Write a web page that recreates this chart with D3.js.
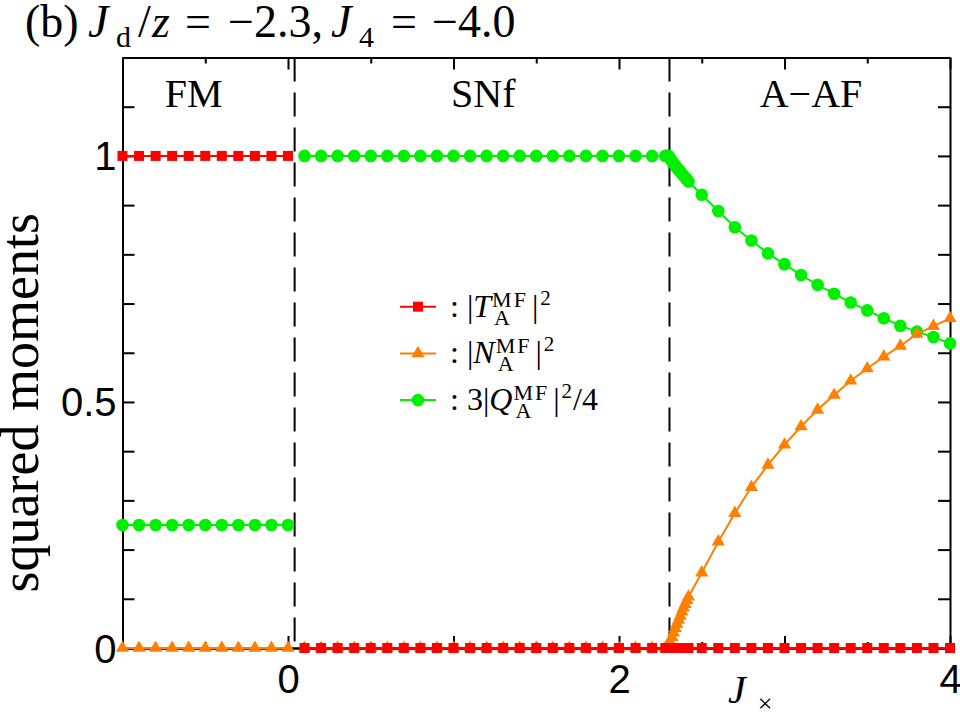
<!DOCTYPE html>
<html>
<head>
<meta charset="utf-8">
<script src="https://cdn.jsdelivr.net/npm/d3@7"></script>
<style>
  body { margin: 0; background: #fff; }
  svg { display: block; }
  .axis text { font-family: 'Liberation Sans', Arial, sans-serif; font-size: 40px; fill: #000; }
  .axis path, .axis line { stroke: #000; stroke-width: 2px; }
  .serif { font-family: 'Liberation Serif', 'Times New Roman', serif; fill: #000; }
</style>
</head>
<body>
<div id="chart"></div>
<script>
// FM phase, J_x from -1 to 0
const jxFM = [-1.0, -0.9, -0.8, -0.7, -0.6, -0.5, -0.4, -0.3, -0.2, -0.1, 0.0];
const tFM = [1, 1, 1, 1, 1, 1, 1, 1, 1, 1, 1];
const nFM = [0, 0, 0, 0, 0, 0, 0, 0, 0, 0, 0];
const qFM = [0.25, 0.25, 0.25, 0.25, 0.25, 0.25, 0.25, 0.25, 0.25, 0.25, 0.25];

// SNf and A-AF phases
const jx = [0.1, 0.2, 0.3, 0.4, 0.5, 0.6, 0.7, 0.8, 0.9, 1.0, 1.1, 1.2, 1.3, 1.4, 1.5, 1.6, 1.7, 1.8, 1.9, 2.0, 2.1, 2.2,
  2.28, 2.29, 2.30,
  2.31, 2.32, 2.33, 2.34, 2.35, 2.36, 2.37, 2.38, 2.39, 2.40, 2.41, 2.42,
  2.5, 2.6, 2.7, 2.8, 2.9, 3.0, 3.1, 3.2, 3.3, 3.4, 3.5, 3.6, 3.7, 3.8, 3.9, 4.0];
const tVals = [0, 0, 0, 0, 0, 0, 0, 0, 0, 0, 0, 0, 0, 0, 0, 0, 0, 0, 0, 0, 0, 0,
  0, 0, 0,
  0, 0, 0, 0, 0, 0, 0, 0, 0, 0, 0, 0,
  0, 0, 0, 0, 0, 0, 0, 0, 0, 0, 0, 0, 0, 0, 0, 0];
const nVals = [0, 0, 0, 0, 0, 0, 0, 0, 0, 0, 0, 0, 0, 0, 0, 0, 0, 0, 0, 0, 0, 0,
  0, 0, 0,
  0.012, 0.022, 0.031, 0.040, 0.049, 0.057, 0.065, 0.074, 0.082, 0.089, 0.097, 0.104,
  0.153, 0.216, 0.274, 0.327, 0.372, 0.413, 0.450, 0.484, 0.514, 0.543, 0.568, 0.592, 0.614, 0.638, 0.654, 0.670];
const qVals = [1, 1, 1, 1, 1, 1, 1, 1, 1, 1, 1, 1, 1, 1, 1, 1, 1, 1, 1, 1, 1, 1,
  1, 1, 1,
  0.994, 0.989, 0.985, 0.980, 0.976, 0.972, 0.968, 0.964, 0.960, 0.956, 0.952, 0.948,
  0.921, 0.888, 0.855, 0.828, 0.802, 0.780, 0.758, 0.738, 0.720, 0.702, 0.686, 0.670, 0.655, 0.643, 0.632, 0.619];

const phaseNames = ['FM', 'SNf', 'A\u2212AF'];
const phaseBounds = [0.04, 2.305];

const xMajorTicks = [-1, 0, 1, 2, 3, 4];
const xMinorTicks = [-0.5, 0.5, 1.5, 2.5, 3.5];
const xTickLabels = { 0: '0', 2: '2', 4: '4' };
const yTicks = [0, 0.1, 0.2, 0.3, 0.4, 0.5, 0.6, 0.7, 0.8, 0.9, 1.0, 1.1, 1.2];
const yTickLabels = { 0: '0', 0.5: '0.5', 1: '1' };

const colT = '#ff0000', colN = '#ff8000', colQ = '#00f000';

const W = 960, H = 716;
const margin = { top: 57.5, right: 10, bottom: 68, left: 122.5 };

const svg = d3.select('#chart').append('svg')
  .attr('width', W)
  .attr('height', H);

const x = d3.scaleLinear().domain([-1, 4]).range([margin.left, W - margin.right]);
const y = d3.scaleLinear().domain([0, 1.2]).range([H - margin.bottom, margin.top]);

// Axes, ticks pointing inward on all sides
const fmtX = d => xTickLabels[d] || '';
const fmtY = d => yTickLabels[Math.round(d * 10) / 10] || '';

const xAxisG = svg.append('g').attr('class', 'axis')
  .attr('transform', `translate(0,${y(0)})`)
  .call(d3.axisBottom(x).tickValues(xMajorTicks).tickSize(-12).tickSizeOuter(0).tickPadding(17).tickFormat(fmtX));
xAxisG.selectAll('text').attr('dy', '0.71em');
svg.append('g').attr('class', 'axis')
  .attr('transform', `translate(0,${y(0)})`)
  .call(d3.axisBottom(x).tickValues(xMinorTicks).tickSize(-6).tickSizeOuter(0).tickFormat(''));
svg.append('g').attr('class', 'axis')
  .attr('transform', `translate(0,${y(1.2)})`)
  .call(d3.axisTop(x).tickValues(xMajorTicks).tickSize(-12).tickSizeOuter(0).tickFormat(''));
svg.append('g').attr('class', 'axis')
  .attr('transform', `translate(0,${y(1.2)})`)
  .call(d3.axisTop(x).tickValues(xMinorTicks).tickSize(-6).tickSizeOuter(0).tickFormat(''));
const yAxisG = svg.append('g').attr('class', 'axis')
  .attr('transform', `translate(${x(-1)},0)`)
  .call(d3.axisLeft(y).tickValues(yTicks).tickSize(-12).tickSizeOuter(0).tickPadding(6).tickFormat(fmtY));
yAxisG.selectAll('text').attr('dy', '0.35em');
svg.append('g').attr('class', 'axis')
  .attr('transform', `translate(${x(4)},0)`)
  .call(d3.axisRight(y).tickValues(yTicks).tickSize(-12).tickSizeOuter(0).tickFormat(''));

// Phase boundaries
svg.selectAll('.phase-line')
  .data(phaseBounds)
  .enter().append('line')
  .attr('x1', d => x(d)).attr('x2', d => x(d))
  .attr('y1', y(1.2)).attr('y2', y(0))
  .attr('stroke', '#000').attr('stroke-width', 2)
  .attr('stroke-dasharray', '24,11');

const phaseLabelX = [-0.57, 1.18, 3.16];
svg.selectAll('.phase-label')
  .data(phaseNames)
  .enter().append('text')
  .attr('class', 'serif')
  .attr('x', (d, i) => x(phaseLabelX[i]))
  .attr('y', y(1.1))
  .attr('text-anchor', 'middle')
  .attr('font-size', 40)
  .text(d => d);

// Series
const line = d3.line().x(d => x(d[0])).y(d => y(d[1]));

function drawSeries(xs, ys, color, symType, size) {
  const pts = xs.map((v, i) => [v, ys[i]]);
  svg.append('path')
    .datum(pts)
    .attr('d', line)
    .attr('fill', 'none')
    .attr('stroke', color)
    .attr('stroke-width', 2);
  svg.append('g').selectAll('path')
    .data(pts)
    .enter().append('path')
    .attr('transform', d => `translate(${x(d[0])},${y(d[1])})`)
    .attr('d', d3.symbol().type(symType).size(size))
    .attr('fill', color);
}

drawSeries(jxFM, qFM, colQ, d3.symbolCircle, 125);
drawSeries(jx, qVals, colQ, d3.symbolCircle, 125);
drawSeries(jxFM, nFM, colN, d3.symbolTriangle, 75);
drawSeries(jx, nVals, colN, d3.symbolTriangle, 75);
drawSeries(jxFM, tFM, colT, d3.symbolSquare, 100);
drawSeries(jx, tVals, colT, d3.symbolSquare, 100);

// Rich text helper
function addText(g, px, py, str, size, italic, spacing) {
  const t = g.append('text').attr('class', 'serif')
    .attr('x', px).attr('y', py)
    .attr('font-size', size)
    .text(str);
  if (italic) t.attr('font-style', 'italic');
  if (spacing) t.attr('letter-spacing', spacing);
  return t.node().getComputedTextLength();
}

// Legend
const legendRows = [
  { color: colT, sym: d3.symbolSquare, size: 100, pre: '', base: 'T', post: '' },
  { color: colN, sym: d3.symbolTriangle, size: 75, pre: '', base: 'N', post: '' },
  { color: colQ, sym: d3.symbolCircle, size: 125, pre: '3', base: 'Q', post: '/4' }
];
const legend = svg.append('g');
legendRows.forEach((r, i) => {
  const ly = 306.7 + i * 46.7;
  legend.append('line')
    .attr('x1', 400).attr('x2', 436).attr('y1', ly).attr('y2', ly)
    .attr('stroke', r.color).attr('stroke-width', 2);
  legend.append('path')
    .attr('transform', `translate(418,${ly})`)
    .attr('d', d3.symbol().type(r.sym).size(r.size))
    .attr('fill', r.color);
  const by = ly + 10;
  let cx = 450;
  cx += addText(legend, cx, by, ': ' + r.pre + '|', 32, false);
  cx += addText(legend, cx, by, r.base, 32, true) + 1;
  const w1 = addText(legend, cx, by - 10, 'MF', 22, false, 2);
  const w2 = addText(legend, cx + 2, by + 8, 'A', 22, false);
  cx += Math.max(w1, w2 + 2) + 4;
  cx += addText(legend, cx, by, '|', 32, false);
  cx += addText(legend, cx + 2, by - 12, '2', 21, false) + 3;
  if (r.post) addText(legend, cx, by, r.post, 32, false);
});

// Title, pieces placed along the line
const title = svg.append('text').attr('class', 'serif')
  .attr('y', 37).attr('font-size', 46);
title.append('tspan').attr('x', 25).text('(b)');
title.append('tspan').attr('x', 88).attr('font-style', 'italic').text('J');
title.append('tspan').attr('x', 116).attr('font-size', 30).attr('dy', 10).text('d');
title.append('tspan').attr('x', 138).attr('dy', -10).text('/');
title.append('tspan').attr('x', 152).attr('font-style', 'italic').text('z');
title.append('tspan').attr('x', 185).text('=');
title.append('tspan').attr('x', 228).text('\u22122.3,');
title.append('tspan').attr('x', 331).attr('font-style', 'italic').text('J');
title.append('tspan').attr('x', 359).attr('font-size', 30).attr('dy', 10).text('4');
title.append('tspan').attr('x', 391).attr('dy', -10).text('=');
title.append('tspan').attr('x', 432).text('\u22124.0');

// Axis titles
svg.append('text').attr('class', 'serif')
  .attr('transform', `translate(38,${(y(0) + y(1.2)) / 2 + 50}) rotate(-90)`)
  .attr('text-anchor', 'middle')
  .attr('font-size', 54)
  .text('squared moments');

const xl = svg.append('text').attr('class', 'serif')
  .attr('x', 728).attr('y', 703).attr('font-size', 40);
xl.append('tspan').attr('font-style', 'italic').text('J');
xl.append('tspan').attr('font-size', 26).attr('dy', 9).attr('dx', 12).text('\u00d7');
</script>
</body>
</html>
